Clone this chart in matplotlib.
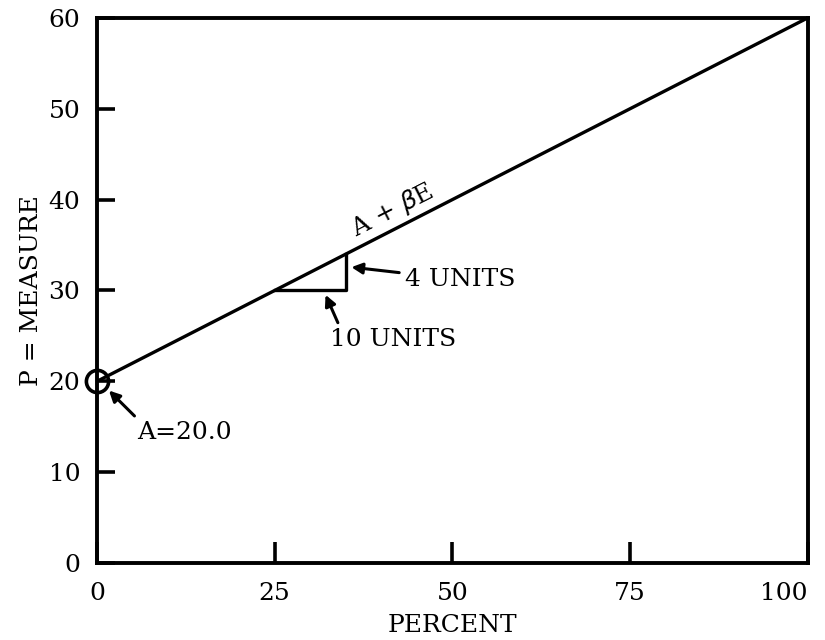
import matplotlib
matplotlib.use("Agg")
import matplotlib.pyplot as plt

# data
percent = [0, 100]
measure = [20, 60]
intercept_x, intercept_y = 0, 20
tri_x = [25, 35, 35]
tri_y = [30, 30, 34]
x_ticks = [0, 25, 50, 75, 100]
x_tick_labels = ['0', '25', '50', '75', '100']
y_ticks = [0, 10, 20, 30, 40, 50, 60]

plt.rcParams['font.family'] = ['DejaVu Serif']

fig = plt.figure(figsize=(8.25, 6.4), dpi=100)
ax = fig.add_axes([0.1176, 0.1203, 0.8614, 0.8517])

ax.plot(percent, measure, color='black', lw=2.4, solid_capstyle='butt')
ax.plot(tri_x, tri_y, color='black', lw=2.4)
ax.plot([intercept_x], [intercept_y], marker='o', ms=16, mfc='none', mec='black', mew=2.6, clip_on=False)

ax.set_xlim(0, 100)
ax.set_ylim(0, 60)
ax.set_xticks(x_ticks, x_tick_labels)
ax.set_yticks(y_ticks)
ax.tick_params(direction='in', length=13, width=2.6, labelsize=18, pad=12)
ax.tick_params(axis='x', pad=14, length=15)
for s in ax.spines.values():
    s.set_linewidth(2.8)
last = ax.get_xticklabels()[-1]
last.set_ha('right')

ax.set_xlabel('PERCENT', fontsize=18, labelpad=6)
ax.set_ylabel('P = MEASURE', fontsize=18, labelpad=4)

ax.text(41.5, 38.8, r'A + $\beta$E', fontsize=18, rotation=27, rotation_mode='anchor',
        ha='center', va='center')
arrow = dict(arrowstyle='-|>', color='black', lw=2.2, mutation_scale=16)
ax.annotate('4 UNITS', xy=(35.4, 32.6), xytext=(43.3, 31.2), fontsize=18,
            va='center', ha='left', arrowprops=arrow)
ax.annotate('10 UNITS', xy=(32.0, 29.8), xytext=(32.8, 24.6), fontsize=18,
            va='center', ha='left', arrowprops=dict(arrow, relpos=(0.08, 1.0)))
ax.annotate('A=20.0', xy=(1.4, 19.2), xytext=(5.6, 14.4), fontsize=18,
            va='center', ha='left', arrowprops=dict(arrow, relpos=(0.05, 0.9)))

fig.savefig('out.png', dpi=100)
